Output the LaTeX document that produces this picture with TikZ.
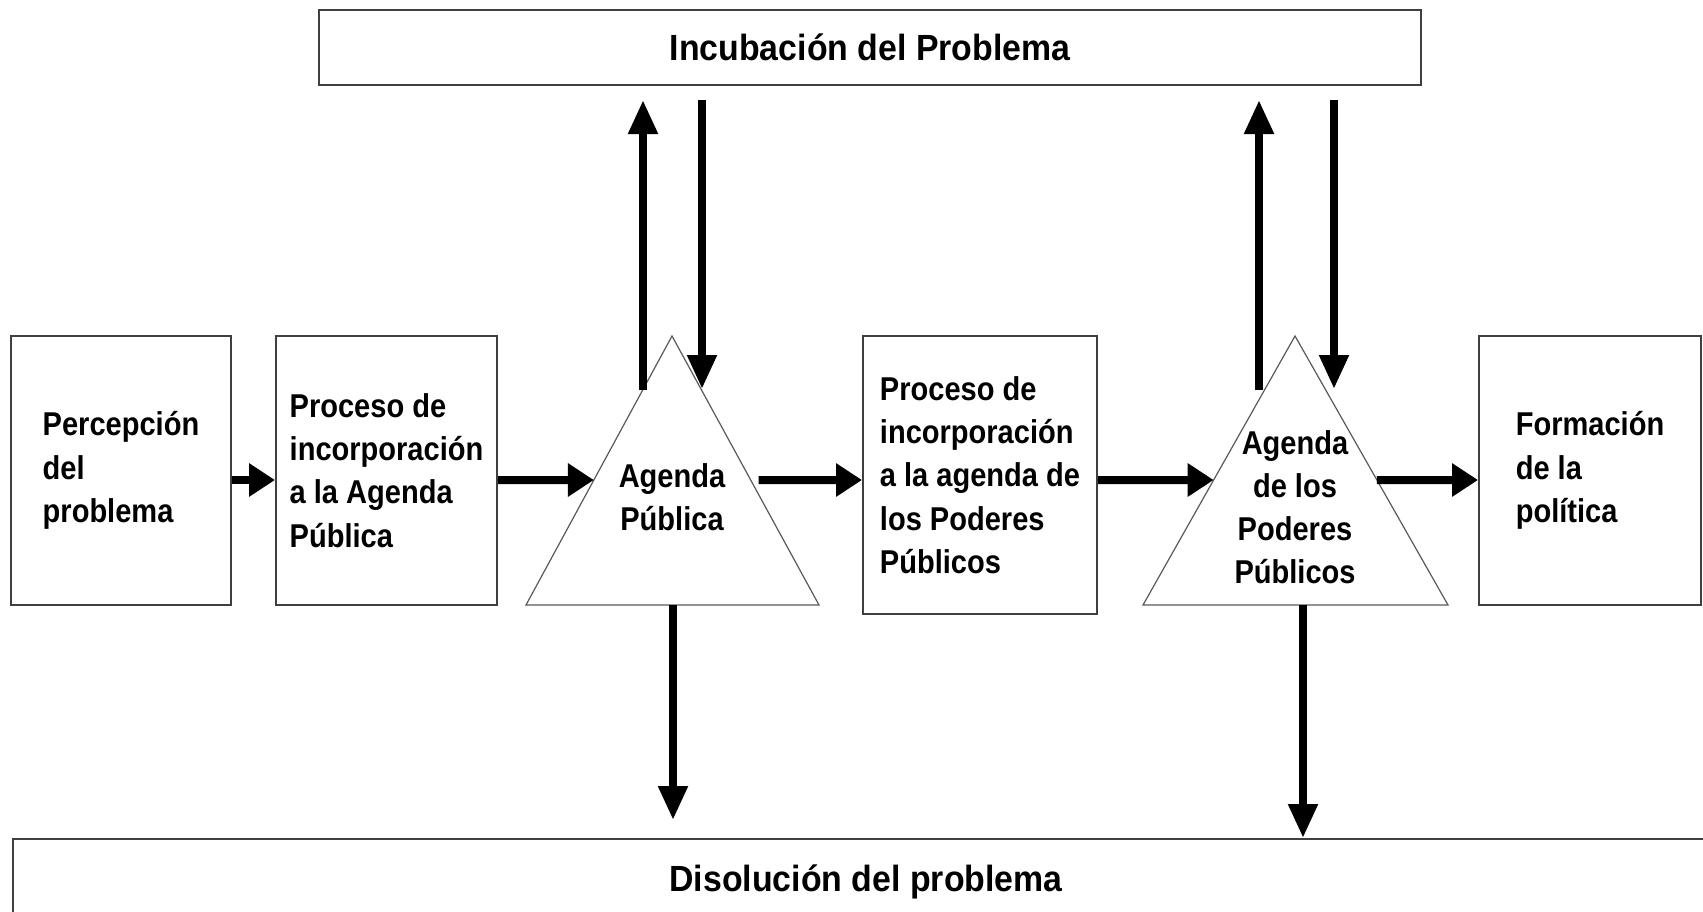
\documentclass[tikz,border=0pt]{standalone}
\usepackage{fontspec}
\newfontfamily\diafont{Liberation Sans}[FakeStretch=0.93]
\newfontfamily\boxfont{Liberation Sans}[FakeStretch=0.88]
\usetikzlibrary{arrows.meta,calc}
\begin{document}
\begin{tikzpicture}[x=0.5pt,y=-0.5pt,
  box/.style={draw=black!75, line width=1pt, inner sep=0pt, align=left,
    font=\boxfont\bfseries\fontsize{16.5}{21.6}\selectfont},
  bigtext/.style={font=\diafont\bfseries\fontsize{18.2}{22}\selectfont},
  tri/.style={draw=black!65, line width=0.6pt},
  lbl/.style={align=center, inner sep=0pt, font=\boxfont\bfseries\fontsize{16.5}{21.6}\selectfont},
  harrow/.style={line width=4pt, -{Triangle[length=13pt,width=16pt]}},
  varrow/.style={line width=4pt, -{Triangle[length=17pt,width=14pt]}}
]
\useasboundingbox (0,0) rectangle (1703,911);

% top and bottom bands
\node[box, bigtext, minimum width=551pt, minimum height=37.5pt, text height=13pt, text depth=0pt, align=center]
  (inc) at (870,47.5) {Incubación del Problema};
\node[box, minimum width=874pt, minimum height=60pt, anchor=north west] (dis) at (12,838) {};
\node[bigtext, anchor=base, inner sep=0pt] (distext) at (866,891) {Disolución del problema};

% boxes
\node[box, minimum width=110pt, minimum height=134.5pt] (b1) at (121,470.5) {Percepción\\del\\problema};
\node[box, minimum width=110.5pt, minimum height=134.5pt] (b2) at (386.5,470.5) {Proceso de\\incorporación\\a la Agenda\\Pública};
\node[box, minimum width=117pt, minimum height=139pt] (b3) at (980,475) {Proceso de\\incorporación\\a la agenda de\\los Poderes\\Públicos};
\node[box, minimum width=111pt, minimum height=134.5pt] (b4) at (1590,470.5) {Formación\\de la\\política};

% triangles
\coordinate (a1) at (672,336);
\coordinate (l1) at (526,605);
\coordinate (r1) at (819,605);
\draw[tri] (a1) -- (l1) -- (r1) -- cycle;
\node[lbl] (t1) at (672,497) {Agenda\\Pública};

\coordinate (a2) at (1295,336);
\coordinate (l2) at (1143,605);
\coordinate (r2) at (1448,605);
\draw[tri] (a2) -- (l2) -- (r2) -- cycle;
\node[lbl] (t2) at (1295,507) {Agenda\\de los\\Poderes\\Públicos};

% horizontal flow
\coordinate (hy) at (0,480);
\draw[harrow] (b1.east |- hy) -- (b2.west |- hy);
\draw[harrow] (b2.east |- hy) -- ($(a1)!0.5353!(l1)$);
\draw[harrow, shorten <=4pt] ($(a1)!0.5353!(r1)$) -- (b3.west |- hy);
\draw[harrow] (b3.east |- hy) -- ($(a2)!0.5353!(l2)$);
\draw[harrow] ($(a2)!0.5353!(r2)$) -- (b4.west |- hy);

% vertical exchanges with the incubation band
\coordinate (vt) at (0,100);
\coordinate (u1) at (643,390);
\coordinate (d1) at (702,389);
\coordinate (u2) at (1259,390);
\coordinate (d2) at (1334,389);
\draw[varrow] (u1) -- (u1 |- vt);
\draw[varrow] (d1 |- vt) -- (d1);
\draw[varrow] (u2) -- (u2 |- vt);
\draw[varrow] (d2 |- vt) -- (d2);

% down to dissolution
\coordinate (e1) at (673,820);
\coordinate (e2) at (1303,838);
\draw[varrow] (e1 |- l1) -- (e1);
\draw[varrow] (e2 |- l2) -- (e2 |- dis.north);
\end{tikzpicture}
\end{document}
